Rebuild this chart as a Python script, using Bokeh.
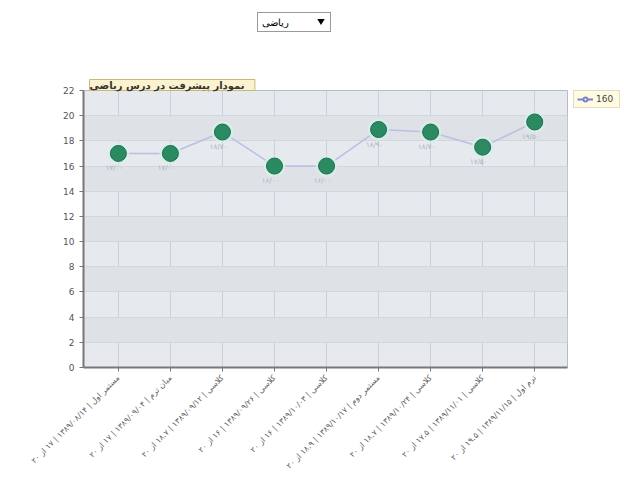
import math
from bokeh.plotting import figure
from bokeh.models import (ColumnDataSource, Legend, LegendItem, Select, FixedTicker, Title,
                          InlineStyleSheet)
from bokeh.layouts import column, row
from bokeh.embed import file_html
from bokeh.resources import INLINE
from bokeh.core.properties import value

categories = [
    "مستمر اول | ۱۳۸۹/۰۸/۱۴ | ۱۷ از ۲۰",
    "میان ترم | ۱۳۸۹/۰۹/۰۴ | ۱۷ از ۲۰",
    "کلاسی | ۱۳۸۹/۰۹/۱۲ | ۱۸.۷ از ۲۰",
    "کلاسی | ۱۳۸۹/۰۹/۲۶ | ۱۶ از ۲۰",
    "کلاسی | ۱۳۸۹/۱۰/۰۳ | ۱۶ از ۲۰",
    "مستمر دوم | ۱۳۸۹/۱۰/۱۷ | ۱۸.۹ از ۲۰",
    "کلاسی | ۱۳۸۹/۱۰/۲۴ | ۱۸.۷ از ۲۰",
    "کلاسی | ۱۳۸۹/۱۱/۰۱ | ۱۷.۵ از ۲۰",
    "ترم اول | ۱۳۸۹/۱۱/۱۵ | ۱۹.۵ از ۲۰",
]
scores = [17, 17, 18.7, 16, 16, 18.9, 18.7, 17.5, 19.5]
point_labels = ["۱۷/۰۰", "۱۷/۰۰", "۱۸/۷۰", "۱۶/۰۰", "۱۶/۰۰", "۱۸/۹۰", "۱۸/۷۰", "۱۷/۵۰", "۱۹/۵۰"]
y_ticks = [0, 2, 4, 6, 8, 10, 12, 14, 16, 18, 20, 22]
series_name = "160"
chart_title = "نمودار  پیشرفت   در درس ریاضی"
subject = "ریاضی"

xs = list(range(len(categories)))
src = ColumnDataSource(dict(x=xs, y=scores, lab=point_labels))

H = 441
p = figure(width=572, height=H, x_range=(-0.67, 8.63), y_range=(0, 22),
           output_backend="svg", toolbar_location=None,
           min_border_left=83, min_border_top=42, min_border_right=5, min_border_bottom=110)

t = Title(text=chart_title, align="left", offset=6,
          text_font="DejaVu Sans", text_font_size="10px", text_font_style="bold",
          text_color="#333333", background_fill_color="#fbf3cf",
          border_line_color="#c8b878", standoff=0)
p.add_layout(t, "above")

p.background_fill_color = "#e6e9ed"
p.border_fill_color = "white"
p.outline_line_color = "#b8bcc2"

p.ygrid.ticker = FixedTicker(ticks=y_ticks)
p.ygrid.grid_line_color = "#d3d6db"
p.ygrid.band_fill_color = "#dee1e5"
p.ygrid.band_fill_alpha = 1.0
p.xgrid.ticker = FixedTicker(ticks=xs)
p.xgrid.grid_line_color = "#cbcfd6"

p.yaxis.ticker = FixedTicker(ticks=y_ticks)
p.xaxis.ticker = FixedTicker(ticks=xs)
p.xaxis.major_label_overrides = {i: c for i, c in enumerate(categories)}
p.xaxis.major_label_orientation = math.pi / 4
p.xaxis.major_label_text_font = "DejaVu Sans"
p.xaxis.major_label_text_font_size = "8px"
p.xaxis.major_label_text_color = "#606060"
p.yaxis.major_label_text_font = "DejaVu Sans"
p.yaxis.major_label_text_font_size = "9px"
p.yaxis.major_label_text_color = "#555555"
for ax in (p.xaxis, p.yaxis):
    ax.axis_line_color = "#777777"
    ax.axis_line_width = 2
    ax.major_tick_line_color = "#777777"
    ax.major_tick_in = 0
    ax.major_tick_out = 4
    ax.minor_tick_line_color = None

p.line("x", "y", source=src, line_color="#b8c0e4", line_width=1.5)
p.scatter("x", "y", source=src, size=22, fill_color="#d6f0ea", fill_alpha=0.75, line_color=None)
p.scatter("x", "y", source=src, size=16, fill_color="#2b8a62", line_color="#1f6e4e", line_width=1)
p.text("x", "y", text="lab", source=src, x_offset=-4, y_offset=15,
       text_font=value("DejaVu Sans"), text_font_size="7px", text_color="#a8b2c6",
       text_align="center", text_baseline="middle")

# side legend figure
lf = figure(width=50, height=H, x_axis_type=None, y_axis_type=None,
            output_backend="svg", toolbar_location=None,
            min_border_left=1, min_border_right=0, min_border_bottom=0, min_border_top=54,
            x_range=(0, 1), y_range=(0, 1))
lf.outline_line_color = None
lf.grid.visible = False
leg_line = lf.line([0], [0], line_color="#7b83c8", line_width=2, visible=False)
leg_dot = lf.scatter([0], [0], size=7, fill_color="white", line_color="#7b83c8",
                     line_width=2, visible=False)
legend = Legend(items=[LegendItem(label=series_name, renderers=[leg_line, leg_dot])],
                location="top_left", background_fill_color="#fffbe2",
                border_line_color="#c8c090", label_text_font_size="9px",
                label_text_font="DejaVu Sans", glyph_width=16, glyph_height=10,
                padding=3, margin=0, label_standoff=3, spacing=0)
lf.add_layout(legend, "center")

css = InlineStyleSheet(css="""
.bk-input { font-size: 10px; height: 20px; min-height: 20px; padding: 0 18px 0 4px;
            border-radius: 0; border: 1px solid #9a9a9a; }
""")
sel = Select(value=subject, options=[subject], width=74, margin=(12, 0, 4, 257),
             stylesheets=[css])

layout = column(sel, row(p, lf))
open("out.html", "w").write(file_html(layout, INLINE))
